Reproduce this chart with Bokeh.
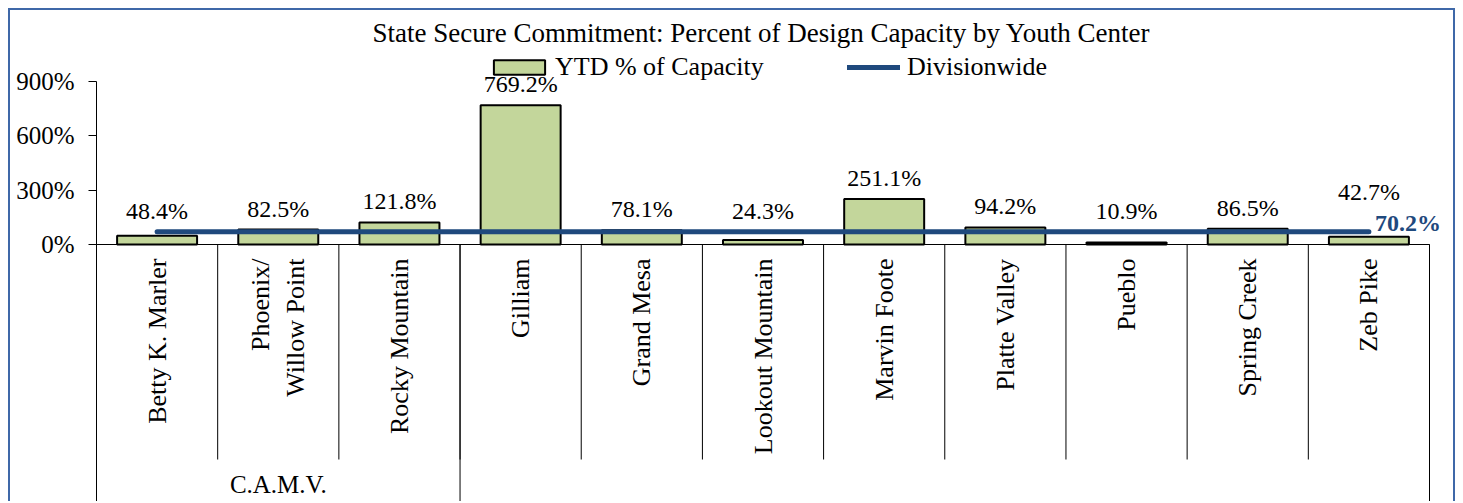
import math
from bokeh.plotting import figure
from bokeh.models import (Range1d, FixedTicker, PrintfTickFormatter,
                          Legend, LegendItem, Label, LabelSet, ColumnDataSource)
from bokeh.core.properties import value
from bokeh.embed import file_html
from bokeh.resources import INLINE

# ---------------- data ----------------
groups = ["C.A.M.V.", "C.A.M.V.", "C.A.M.V.", "", "", "", "", "", "", "", ""]
centers = ["Betty K. Marler", "Phoenix/\nWillow Point", "Rocky Mountain", "Gilliam",
           "Grand Mesa", "Lookout Mountain", "Marvin Foote", "Platte Valley",
           "Pueblo", "Spring Creek", "Zeb Pike"]
ytd_pct = [48.4, 82.5, 121.8, 769.2, 78.1, 24.3, 251.1, 94.2, 10.9, 86.5, 42.7]
divisionwide = 70.2
y_ticks = [0, 300, 600, 900]
title_text = "State Secure Commitment: Percent of Design Capacity by Youth Center"
bar_label = "YTD % of Capacity"
line_label = "Divisionwide"

# ---------------- layout (canvas px) ----------------
W, H = 1447, 493
AXIS_X_PX, CAT_END_PX = 86, 1419   # canvas x of first / last category boundary
TOP = 38
ZERO_PX, TOPTICK_PX = 234, 71      # canvas y of 0% and 900%
CAT_SEP_PX = 449
GROUP_LABEL_PX = 474
TITLE_X_PX = 362
LABEL_LIFT = 21        # px above bar / line for data labels
LABEL_LIFT_LAST = 40   # last label lifted clear of the divisionwide value label

n = len(centers)
pxu = (CAT_END_PX - AXIS_X_PX) / n
x_start = -AXIS_X_PX / pxu
x_end = (W - AXIS_X_PX) / pxu
ppu = (ZERO_PX - TOPTICK_PX) / y_ticks[-1]
y_end = (ZERO_PX - TOP) / ppu
y_start = -(H - ZERO_PX) / ppu
cat_sep_bottom = -(CAT_SEP_PX - ZERO_PX) / ppu
group_label_y = -(GROUP_LABEL_PX - ZERO_PX) / ppu

FONT = "Liberation Serif"
BAR_FILL = "#C3D69B"
LINE_COL = "#1F497D"
BORDER_COL = "#3F68A8"

xpos = [i + 0.5 for i in range(n)]

src = ColumnDataSource(dict(
    x=xpos,
    top=ytd_pct,
    label_y=[max(v, divisionwide) for v in ytd_pct],
    dy=[LABEL_LIFT] * (n - 1) + [LABEL_LIFT_LAST],
    text=[f"{v:.1f}%" for v in ytd_pct],
))

p = figure(width=W, height=H,
           x_range=Range1d(x_start, x_end),
           y_range=Range1d(y_start, y_end),
           output_backend="svg", toolbar_location=None,
           min_border_left=0, min_border_right=0,
           min_border_top=TOP, min_border_bottom=0,
           styles={"border": f"2px solid {BORDER_COL}", "border-bottom": "none",
                   "margin-left": "8px", "margin-top": "8px"})
p.outline_line_color = None
p.xgrid.visible = False
p.ygrid.visible = False
p.background_fill_color = "white"
p.border_fill_color = "white"

# title
p.title.text = title_text
p.title.align = "left"
p.title.offset = TITLE_X_PX
p.title.text_font = FONT
p.title.text_font_style = "normal"
p.title.text_font_size = "27px"
p.title.text_color = "black"
p.title.standoff = 2

# bars
bars = p.vbar(x="x", top="top", width=0.66, source=src, fill_color=BAR_FILL,
              line_color="black", line_width=2)

# divisionwide line
line = p.line(x=xpos, y=[divisionwide] * n, line_color=LINE_COL, line_width=5,
              line_cap="round")

# separators below axis
cat_x = list(range(n + 1))
p.segment(x0=cat_x, y0=[0] * (n + 1), x1=cat_x, y1=[cat_sep_bottom] * (n + 1),
          line_color="black", line_width=1)
grp_bounds = [0]
for i in range(1, n):
    if groups[i] != groups[i - 1]:
        grp_bounds.append(i)
grp_bounds.append(n)
p.segment(x0=grp_bounds, y0=[0] * len(grp_bounds), x1=grp_bounds,
          y1=[y_start] * len(grp_bounds), line_color="black", line_width=1)

# group labels
g_names, g_x = [], []
for a, b in zip(grp_bounds[:-1], grp_bounds[1:]):
    if groups[a]:
        g_names.append(groups[a])
        g_x.append((a + b) / 2)
p.text(x=g_x, y=[group_label_y] * len(g_x), text=g_names, text_align="center",
       text_baseline="middle", text_font=value(FONT), text_font_size="25px",
       text_color="black")

# data labels
labels = LabelSet(x="x", y="label_y", text="text", source=src, y_offset="dy",
                  text_align="center", text_baseline="middle",
                  text_font=FONT, text_font_size="24px", text_color="black")
p.add_layout(labels)

dw = Label(x=xpos[-1], y=divisionwide, text=f"{divisionwide:.1f}%", x_offset=6,
           y_offset=9, text_align="left", text_baseline="middle",
           text_font=FONT, text_font_size="24px", text_font_style="bold",
           text_color=LINE_COL)
p.add_layout(dw)

# y axis (drawn at the first category boundary)
ya = p.yaxis[0]
ya.fixed_location = 0
ya.ticker = FixedTicker(ticks=y_ticks)
ya.formatter = PrintfTickFormatter(format="%d%%")
ya.bounds = (y_ticks[0], y_ticks[-1])
ya.major_tick_out = 8
ya.major_tick_in = 0
ya.minor_tick_line_color = None
ya.major_label_standoff = 14
ya.major_label_text_font = FONT
ya.major_label_text_font_size = "25px"
ya.major_label_text_color = "black"
ya.axis_line_color = "black"
ya.major_tick_line_color = "black"

# x axis (category axis at 0%)
xa = p.xaxis[0]
xa.fixed_location = 0
xa.ticker = FixedTicker(ticks=xpos)
xa.major_label_overrides = {x: c for x, c in zip(xpos, centers)}
xa.bounds = (0, n)
xa.major_tick_line_color = None
xa.major_tick_out = 0
xa.major_tick_in = 0
xa.minor_tick_line_color = None
xa.major_label_orientation = math.pi / 2
xa.major_label_standoff = 14
xa.major_label_text_font = FONT
xa.major_label_text_font_size = "26px"
xa.major_label_text_color = "black"
xa.axis_line_color = "black"

# legends
leg1 = Legend(items=[LegendItem(label=bar_label, renderers=[bars])],
              location=(477, 421), orientation="horizontal",
              glyph_width=64, glyph_height=18, label_standoff=4,
              padding=0, margin=0, border_line_color=None,
              background_fill_alpha=0,
              label_text_font=FONT, label_text_font_size="26px",
              label_text_color="black")
leg2 = Legend(items=[LegendItem(label=line_label, renderers=[line])],
              location=(837, 421), orientation="horizontal",
              glyph_width=53, glyph_height=18, label_standoff=7,
              padding=0, margin=0, border_line_color=None,
              background_fill_alpha=0,
              label_text_font=FONT, label_text_font_size="26px",
              label_text_color="black")
p.add_layout(leg1, "center")
p.add_layout(leg2, "center")

open("out.html", "w").write(file_html(p, INLINE))
